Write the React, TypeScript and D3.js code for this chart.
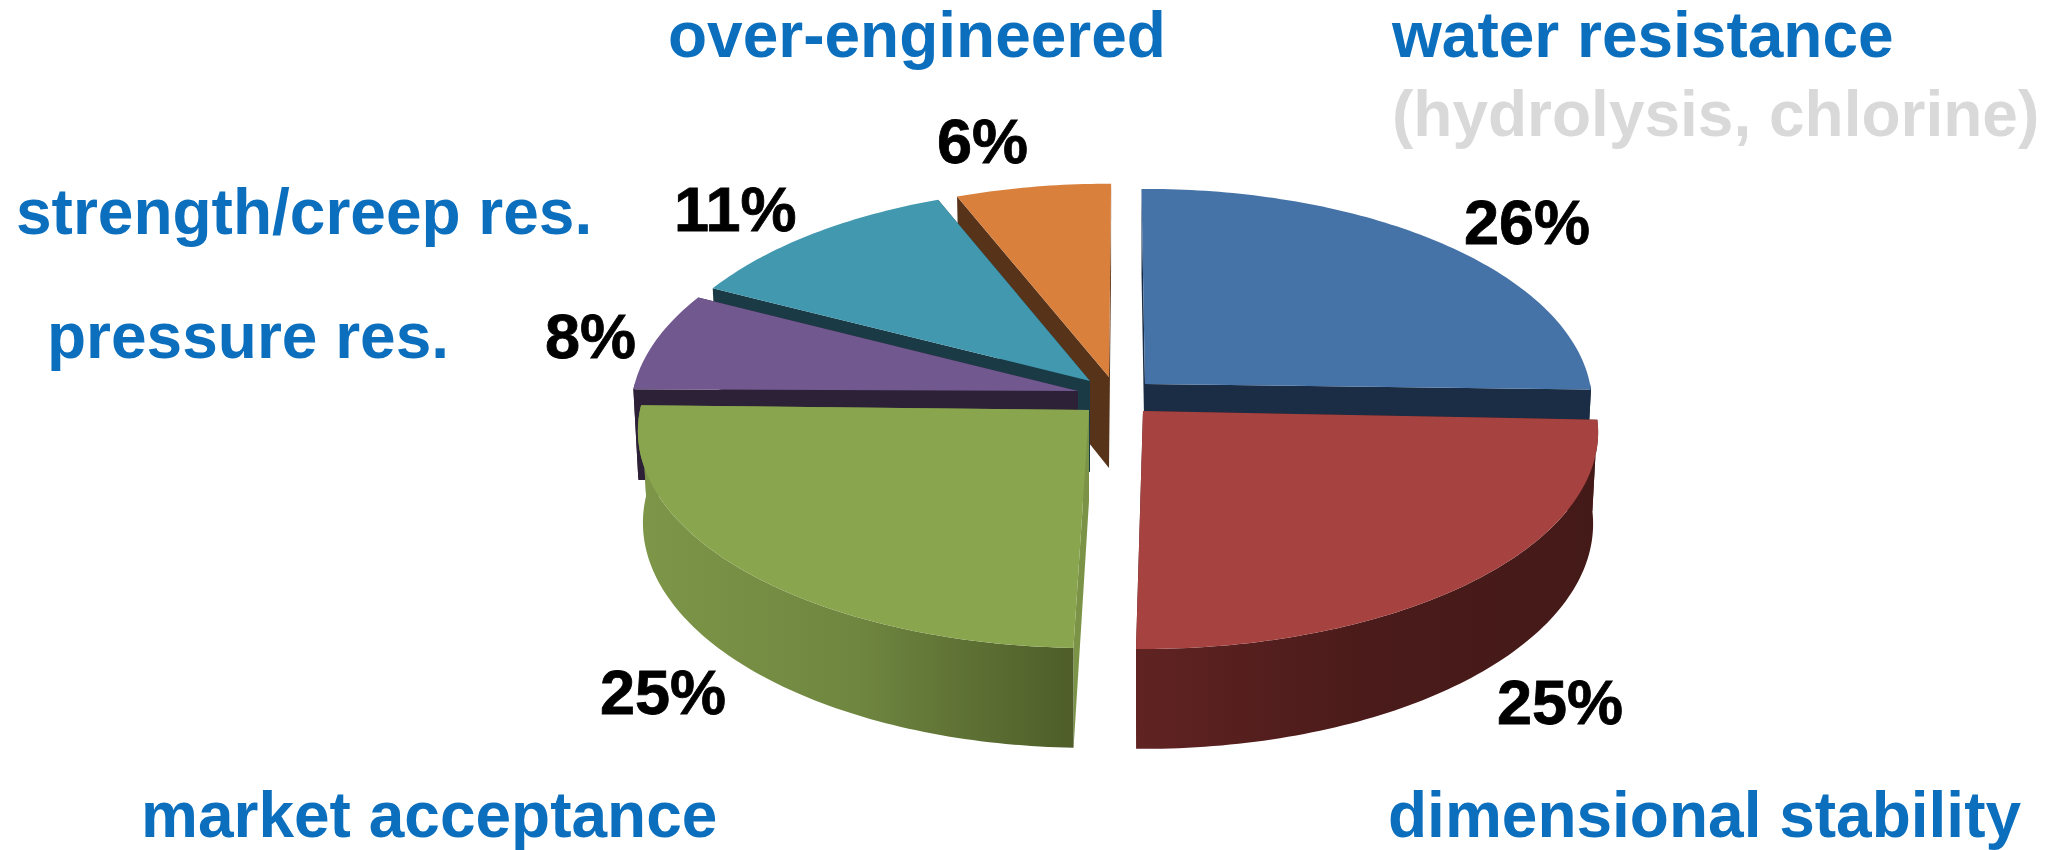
import React from "react";
import * as d3 from "d3";

// ---- data ----
const categories = ["water resistance", "dimensional stability", "market acceptance", "pressure res.", "strength/creep res.", "over-engineered"];
const values = [26, 25, 25, 8, 11, 6];
const noteLabel = "(hydrolysis, chlorine)";

// ---- styles ----
const topColors = ["#4572A7", "#A64341", "#89A54E", "#71588F", "#4198AF", "#D9803D"];
const faceColors = ["#1B2D45", "#451A18", "#7B9347", "#2C2137", "#1A3A45", "#57331A"];
const wallStops = [
  ["#1B2D45", "#1B2D45"],
  ["#602322", "#4A1B1A", "#441A18"],
  ["#7E9648", "#6F8640", "#4E5D29"],
  ["#2C2137", "#2C2137"],
  ["#1A3A45", "#1A3A45"],
  ["#57331A", "#57331A"],
];
const blueText = "#0B6FBE";
const greyText = "#D9D9D9";

// ---- layout ----
const W = 2053, H = 850;
const centerX = [1145, 1143, 1089, 1078, 1090, 1109];
const centerY = [384, 411, 410, 391, 381, 377];
const radiusX = [445, 453, 449, 445, 442, 442];
const radiusY = [214, 215, 215, 215, 213, 212];
const perspective = 0.0967;
const depth = 91;
const bottomInsetX = 5;
const bottomGrowY = 8;
const drawOrder = [5, 4, 3, 0, 2, 1];
const labelX = [1392, 1388, 141, 47, 16, 668];
const labelY = [57, 837, 837, 358, 234, 57];
const pctX = [1464, 1497, 600, 545, 674, 937];
const pctY = [244, 724, 714, 358, 231, 163];
const noteX = 1392, noteY = 136;
const fontSize = 64;
const pctSize = 63;

const pie = d3.pie<number>().sort(null).value((d) => d).startAngle(0).endAngle(2 * Math.PI);
const arcs = pie(values);

// The 3-D renderer's foreshortening: pie angle (deg) -> angle on the tilted disc.
const deg = (r: number) => (r * 180) / Math.PI;
const pieAnglesDeg = [0, ...arcs.map((a) => deg(a.endAngle))];
const viewAnglesDeg = [-0.5, 91.5, 180.8, 270.5, 297, 338, 360.3];
const viewAngle = d3.scaleLinear().domain(pieAnglesDeg).range(viewAnglesDeg);
// small per-slice corrections where neighbouring exploded slices disagree
const startNudge = [0, 0.8, 1.0, 0, 0, 0];
const endNudge = [0, 0, 0.8, 0, 0, 0];

type Pt = [number, number];
const line = d3.line<Pt>();

function project(i: number, thetaDeg: number, bottom = false): Pt {
  const t = (thetaDeg * Math.PI) / 180;
  const X = Math.sin(t);
  const Y = -Math.cos(t);
  const w = 1 - perspective * Y;
  const rx = radiusX[i] - (bottom ? bottomInsetX : 0);
  const ry = radiusY[i] + (bottom ? bottomGrowY : 0);
  return [centerX[i] + (rx * X) / w, centerY[i] + (bottom ? depth : 0) + (ry * Y) / w];
}

function arcPoints(i: number, a0: number, a1: number, bottom = false): Pt[] {
  const n = Math.max(2, Math.ceil(Math.abs(a1 - a0)));
  return d3.range(n + 1).map((k) => project(i, a0 + ((a1 - a0) * k) / n, bottom));
}

export default function App() {
  const slices = arcs.map((a, i) => ({
    i,
    a0: viewAngle(deg(a.startAngle)) + startNudge[i],
    a1: viewAngle(deg(a.endAngle)) + endNudge[i],
  }));
  const byIndex = (k: number) => slices[k];

  return (
    <svg
      width={W}
      height={H}
      viewBox={`0 0 ${W} ${H}`}
      style={{ position: "absolute", left: 0, top: 0, background: "#fff" }}
      fontFamily="'Liberation Sans', Arial, sans-serif"
      fontWeight="bold"
    >
      <defs>
        {slices.map(({ i, a0, a1 }) => {
          const xs = [...arcPoints(i, a0, a1), ...arcPoints(i, a0, a1, true)].map((p) => p[0]);
          const [x0, x1] = d3.extent(xs) as [number, number];
          const stops = wallStops[i];
          return (
            <linearGradient key={i} id={`wall${i}`} gradientUnits="userSpaceOnUse" x1={x0} x2={x1} y1={0} y2={0}>
              {stops.map((c, k) => (
                <stop key={k} offset={k / (stops.length - 1)} stopColor={c} />
              ))}
            </linearGradient>
          );
        })}
      </defs>

      {drawOrder.map((k) => {
        const { i, a0, a1 } = byIndex(k);
        const apexTop: Pt = [centerX[i], centerY[i]];
        const apexBot: Pt = [centerX[i], centerY[i] + depth];
        const wa0 = Math.max(a0, 90);
        const wa1 = Math.min(a1, 272);
        const hasWall = wa1 > wa0;
        const startFace: Pt[] = [apexTop, project(i, a0), project(i, a0, true), apexBot];
        const endFace: Pt[] = [apexTop, project(i, a1), project(i, a1, true), apexBot];
        const wall: Pt[] = hasWall ? [...arcPoints(i, wa0, wa1), ...arcPoints(i, wa1, wa0, true)] : [];
        const top: Pt[] = [apexTop, ...arcPoints(i, a0, a1)];
        return (
          <g key={i}>
            <path d={line(startFace) + "Z"} fill={faceColors[i]} />
            <path d={line(endFace) + "Z"} fill={faceColors[i]} />
            {hasWall && <path d={line(wall) + "Z"} fill={`url(#wall${i})`} />}
            <path d={line(top) + "Z"} fill={topColors[i]} />
          </g>
        );
      })}

      {categories.map((c, i) => (
        <text key={c} x={labelX[i]} y={labelY[i]} fontSize={fontSize} fill={blueText}>
          {c}
        </text>
      ))}
      <text x={noteX} y={noteY} fontSize={fontSize} fill={greyText}>
        {noteLabel}
      </text>

      {values.map((v, i) => (
        <text key={i} x={pctX[i]} y={pctY[i]} fontSize={pctSize} fill="#000" stroke="#000" strokeWidth={0.8}>
          {`${v}%`}
        </text>
      ))}
    </svg>
  );
}
